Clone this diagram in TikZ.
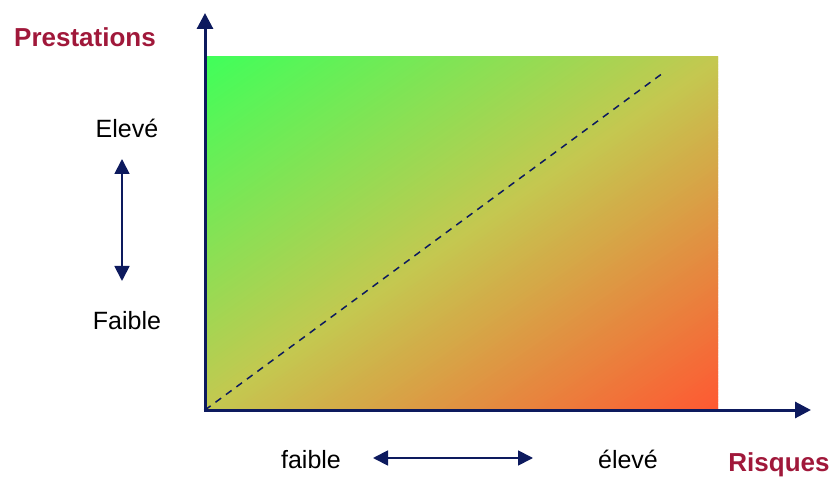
\documentclass[tikz,border=0pt]{standalone}
\usepackage{fontspec}
\setmainfont{Liberation Sans}
\usetikzlibrary{arrows.meta}
\definecolor{navy}{HTML}{0D1A5E}
\definecolor{wine}{HTML}{A0183A}
\definecolor{cTL}{HTML}{40FF5A}
\definecolor{cM}{HTML}{C4C850}
\definecolor{cBR}{HTML}{FF5832}
\begin{document}
\begin{tikzpicture}[x=1pt,y=1pt,
  axis/.style={draw=navy,line width=3pt,-{Triangle[length=16pt,width=16pt]}},
  dbl/.style={draw=navy,line width=1.8pt,{Triangle[length=15pt,width=15pt]}-{Triangle[length=15pt,width=15pt]}},
  title/.style={font=\fontsize{26}{29}\selectfont\bfseries,text=wine,anchor=base,inner sep=0pt},
  lbl/.style={font=\fontsize{25}{28}\selectfont,text=black,anchor=base,inner sep=0pt}]
\useasboundingbox (0,0) rectangle (833,477);
% diagonal gradient: green (top left) -> yellow -> red (bottom right)
\begin{scope}
\clip (205,67) rectangle (718,420);
\foreach \i in {0,...,199}{
  \pgfmathsetmacro\ta{\i/200}
  \pgfmathsetmacro\tb{(\i+1.8)/200}
  \ifnum\i<100
    \pgfmathtruncatemacro\pp{\i}\colorlet{sc}{cM!\pp!cTL}
  \else
    \pgfmathtruncatemacro\pp{\i-100}\colorlet{sc}{cBR!\pp!cM}
  \fi
  \fill[sc] ({205+513*\ta-513},{420-353*\ta-353}) -- ({205+513*\ta+513},{420-353*\ta+353})
         -- ({205+513*\tb+513},{420-353*\tb+353}) -- ({205+513*\tb-513},{420-353*\tb-353}) -- cycle;
}
\end{scope}
\coordinate (O) at (205,67);
\coordinate (Ytop) at (205,464);
\coordinate (Xend) at (811,67);
\coordinate (D) at (663,404);
\draw[navy,line width=1.5pt,dash pattern=on 7pt off 6pt] (O) -- (D);
\draw[axis] (O) -- (Ytop);
\draw[axis] ([xshift=-1.5pt]O) -- (Xend);
\coordinate (va) at (122,318);
\coordinate (vb) at (122,196);
\draw[dbl] (va) -- (vb);
\coordinate (ha) at (373,19);
\coordinate (hb) at (533,19);
\draw[dbl] (ha) -- (hb);
\node[title] (prest) at (85,430) {Prestations};
\node[title] (risq) at (779,6) {Risques};
\node[lbl] (hi) at (127,339) {Elevé};
\node[lbl] (lo) at (127,147) {Faible};
\node[lbl] (fa) at (311,9) {faible};
\node[lbl] (el) at (628,9) {élevé};
\end{tikzpicture}
\end{document}
